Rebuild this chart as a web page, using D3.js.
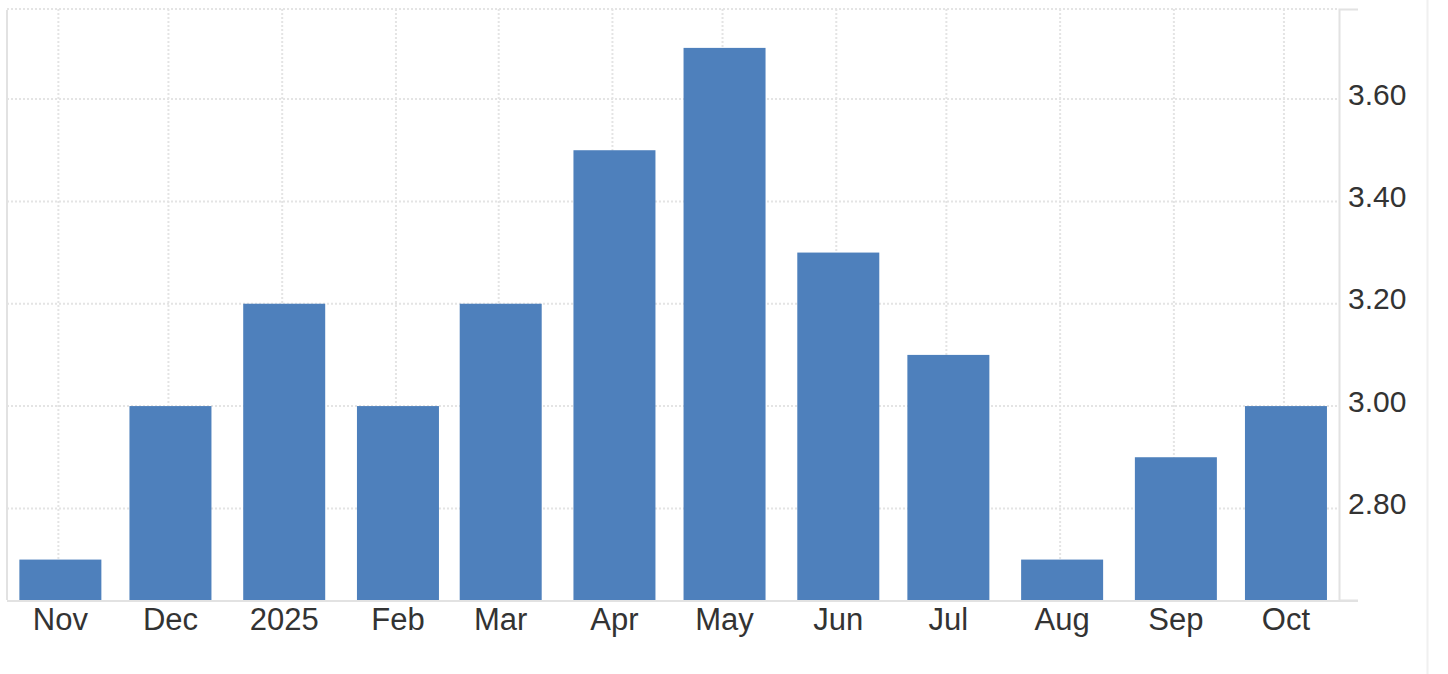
<!DOCTYPE html>
<html>
<head>
<meta charset="utf-8">
<script src="https://cdn.jsdelivr.net/npm/d3@7"></script>
<style>
  html, body { margin: 0; padding: 0; background: #fff; }
  svg { display: block; }
  text { font-family: "Liberation Sans", Arial, Helvetica, sans-serif; fill: #333; }
</style>
</head>
<body>
<div id="chart"></div>
<script>
var months = ['2024-11-01', '2024-12-01', '2025-01-01', '2025-02-01', '2025-03-01', '2025-04-01',
  '2025-05-01', '2025-06-01', '2025-07-01', '2025-08-01', '2025-09-01', '2025-10-01'];
var monthLabels = ['Nov', 'Dec', '2025', 'Feb', 'Mar', 'Apr', 'May', 'Jun', 'Jul', 'Aug', 'Sep', 'Oct'];
var values = [2.7, 3.0, 3.2, 3.0, 3.2, 3.5, 3.7, 3.3, 3.1, 2.7, 2.9, 3.0];
var yTicks = [2.8, 3.0, 3.2, 3.4, 3.6];

var width = 1448, height = 674;
// note: "top" is taken by window.top, so plot edges get their own names
var plotLeft = 7, plotRight = 1339, plotTop = 9, plotBottom = 600;
var barWid = 82;

var parse = d3.utcParse('%Y-%m-%d');
var data = months.map(function (m, i) {
  return { date: parse(m), label: monthLabels[i], value: values[i] };
});

var svg = d3.select('#chart').append('svg').attr('width', width).attr('height', height);

var x = d3.scaleUtc()
  .domain([parse('2024-10-18'), parse('2025-10-16')])
  .range([plotLeft, plotRight]);
var y = d3.scaleLinear()
  .domain([2.621, 3.776])
  .range([plotBottom, plotTop]);

// far right panel border
svg.append('line')
  .attr('x1', 1427.5).attr('x2', 1427.5).attr('y1', 0).attr('y2', height)
  .attr('stroke', '#f0f0f0').attr('stroke-width', 2);

// dotted grid
var grid = svg.append('g').attr('stroke', '#e4e4e4').attr('stroke-width', 2)
  .attr('stroke-dasharray', '2,2');
grid.selectAll('.hgrid').data(yTicks.concat([y.domain()[1]])).enter().append('line')
  .attr('x1', plotLeft).attr('x2', plotRight)
  .attr('y1', function (d) { return y(d); })
  .attr('y2', function (d) { return y(d); });
grid.selectAll('.vgrid').data(data).enter().append('line')
  .attr('x1', function (d) { return x(d.date); })
  .attr('x2', function (d) { return x(d.date); })
  .attr('y1', plotTop).attr('y2', plotBottom);

// left border
svg.append('line')
  .attr('x1', plotLeft).attr('x2', plotLeft).attr('y1', plotTop + 1).attr('y2', plotBottom)
  .attr('stroke', '#e2e2e2').attr('stroke-width', 2);

svg.append('g').selectAll('rect').data(data).enter().append('rect')
  .attr('x', function (d) { return x(d.date) - 39; })
  .attr('width', barWid)
  .attr('y', function (d) { return y(d.value); })
  .attr('height', function (d) { return plotBottom - y(d.value); })
  .attr('fill', '#4e80bc');

// bottom axis line
svg.append('line')
  .attr('x1', plotLeft).attr('x2', plotRight + 19).attr('y1', plotBottom + 1).attr('y2', plotBottom + 1)
  .attr('stroke', '#e2e2e2').attr('stroke-width', 2);

// right axis
var yAxis = d3.axisRight(y)
  .tickValues(yTicks)
  .tickFormat(d3.format('.2f'))
  .tickSizeInner(0)
  .tickSizeOuter(19)
  .tickPadding(9);
var ya = svg.append('g').attr('transform', 'translate(' + plotRight + ',0)').call(yAxis);
ya.select('.domain').attr('stroke', '#e2e2e2').attr('stroke-width', 2);
ya.selectAll('text')
  .attr('font-size', 30)
  .attr('fill', '#333')
  .attr('font-family', '"Liberation Sans", Arial, sans-serif')
  .attr('dy', 5)
  .attr('x', 9);

// x labels
svg.append('g').selectAll('text').data(data).enter().append('text')
  .attr('x', function (d) { return x(d.date) + 2; })
  .attr('y', 630)
  .attr('text-anchor', 'middle')
  .attr('font-size', 31)
  .text(function (d) { return d.label; });
</script>
</body>
</html>
